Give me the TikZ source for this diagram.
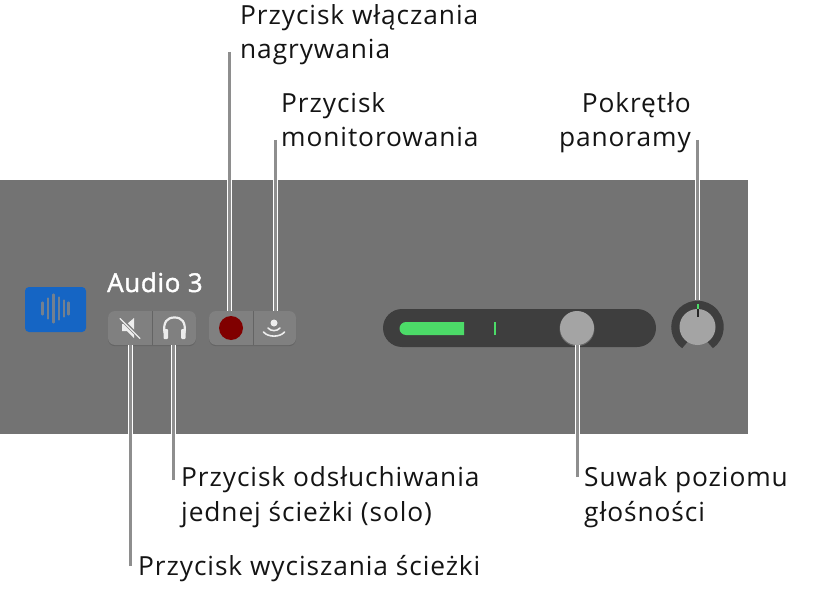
\documentclass[tikz,border=0pt]{standalone}
\usepackage{fontspec}
\setmainfont[LetterSpace=3.5]{Open Sans}
\newfontfamily\namefont[LetterSpace=2.5,FakeBold=1.5]{Open Sans}
\definecolor{panelc}{HTML}{737373}
\definecolor{btnc}{HTML}{808080}
\definecolor{btnsh}{HTML}{646464}
\definecolor{darkc}{HTML}{3E3E3E}
\definecolor{greenc}{HTML}{4CDB68}
\definecolor{knobc}{HTML}{A4A4A4}
\definecolor{bluec}{HTML}{1565C4}
\definecolor{wavec}{HTML}{728090}
\definecolor{iconc}{HTML}{EDEDED}
\definecolor{linec}{HTML}{8E8E8E}
\definecolor{redc}{HTML}{800000}
\tikzset{
  lbl/.style={inner sep=0pt,font=\fontsize{26.3}{34.5}\selectfont,text=black!92,align=left,anchor=base west},
  callout/.style={draw=white,double=linec,double distance=3pt,line width=1pt},
  box/.style={rectangle,inner sep=0pt,minimum width=#1,rounded corners=7pt,fill=btnc},
  iconl/.style={draw=iconc,line width=1.6pt,line cap=round},
}
\begin{document}
\begin{tikzpicture}[x=1pt,y=-1pt]
\useasboundingbox (0,0) rectangle (814,591);
\fill[panelc] (0,180) rectangle (748,434);
% track icon
\node[rectangle,fill=bluec,rounded corners=4pt,minimum width=61pt,minimum height=45pt,inner sep=0pt] (icon) at (55.5,309.5) {};
\foreach \x/\h in {42.5/6,48/10,53.5/14,59/11,64/8,68.5/6}
  \draw[wavec,line width=2.2pt,line cap=round] (\x,308.5-\h) -- (\x,308.5+\h);
% name
\node[inner sep=0pt,anchor=base west,text=white,font=\namefont\fontsize{26}{30}\selectfont] (name) at (107,292) {Audio 3};
% mute/solo group
\node[box=88pt,minimum height=34pt,fill=btnsh] (shadow1) at (152,329.2) {};
\node[box=88pt,minimum height=34pt] (group1) at (152,328) {};
\draw[btnsh,line width=1pt] (152.7,311) -- (152.7,345);
\fill[iconc] (122,324) -- (127,324) -- (134,318) -- (134,338) -- (127,331) -- (122,331) -- cycle;
\draw[btnc,line width=3.5pt] (119,317) -- (139,337);
\draw[iconc,line width=1.4pt,line cap=round] (120,318.5) -- (140,338.5);
\draw[iconc,line width=2.2pt] (164.5,333) .. controls (163,322) and (167,317.5) .. (174.5,317.5) .. controls (182,317.5) and (186,322) .. (184.5,333);
\fill[iconc,rounded corners=1pt] (163.5,329) rectangle (168,339);
\fill[iconc,rounded corners=1pt] (181,329) rectangle (185.5,339);
% record/monitor group
\node[box=87pt,minimum height=34pt,fill=btnsh] (shadow2) at (252.5,329.2) {};
\node[box=87pt,minimum height=34pt] (group2) at (252.5,328) {};
\draw[btnsh,line width=1pt] (253,311) -- (253,345);
\node[circle,fill=redc,minimum size=24pt,inner sep=0pt] (recdot) at (231,328) {};
\node[circle,fill=iconc,minimum size=7pt,inner sep=0pt] (mondot) at (274,323) {};
\draw[iconl] (268,328) .. controls (271,331.5) and (277,331.5) .. (280,328);
\draw[iconl] (263.5,332) .. controls (268,337.5) and (280,337.5) .. (284.5,332);
% volume slider
\node[rectangle,fill=darkc,rounded corners=19pt,minimum width=273pt,minimum height=38pt,inner sep=0pt] (track) at (519.5,328) {};
\fill[greenc] (464,322) -- (406,322) arc[start angle=90,end angle=270,radius=6.5pt] -- (464,335) -- cycle;
\fill[greenc] (494,322) rectangle (496,335);
\node[circle,fill=black!45,opacity=.5,minimum size=35pt,inner sep=0pt] (thumbsh) at (577,328.8) {};
\node[circle,fill=knobc,minimum size=34pt,inner sep=0pt] (thumb) at (577,328) {};
% pan knob
\draw[darkc,line width=8.5pt] (697.5,327) ++(235:22pt) arc[start angle=235,end angle=-55,radius=22pt];
\coordinate (ringtop) at (697.5,300);
\node[circle,fill=knobc,minimum size=36pt,inner sep=0pt] (knob) at (697.5,327) {};
\fill[greenc] (696.5,304) rectangle (698.5,309);
\fill[black!85] (696.5,309) rectangle (698.5,317);
% labels
\node[lbl] (lrec) at (240,59) {Przycisk włączania\\nagrywania};
\node[lbl] (lmon) at (281,147) {Przycisk\\monitorowania};
\node[lbl,align=right,anchor=base east] (lpan) at (691,147) {Pokrętło\\panoramy};
\node[lbl] (lsolo) at (181,521) {Przycisk odsłuchiwania\\jednej ścieżki (solo)};
\node[lbl] (lmute) at (138,575) {Przycisk wyciszania ścieżki};
\node[lbl] (lvol) at (584,521) {Suwak poziomu\\głośności};
% connectors
\coordinate (erec) at (229,52);
\coordinate (emon) at (275,140);
\coordinate (epan) at (697,140);
\coordinate (esolo) at (173,480);
\coordinate (emute) at (130,566);
\coordinate (evol) at (577,477);
\draw[callout] (erec) -- (erec |- group2.north);
\draw[callout] (emon) -- (emon |- group2.north);
\draw[callout] (epan) -- (epan |- ringtop);
\draw[callout] (esolo) -- (esolo |- group1.south);
\draw[callout] (emute) -- (emute |- group1.south);
\draw[callout] (evol) -- (evol |- thumb.south);
\end{tikzpicture}
\end{document}
